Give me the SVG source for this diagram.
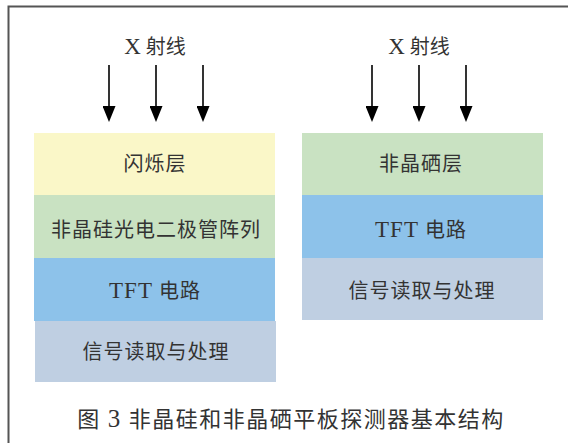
<svg xmlns="http://www.w3.org/2000/svg" width="568" height="443" viewBox="0 0 568 443">
<style>
.t{font-family:"Liberation Serif","Noto Sans CJK SC",serif;fill:#333;text-anchor:middle;}
.lbl{font-size:20px;letter-spacing:1px;}
.xr{font-size:20px;}
.cap{font-size:22px;letter-spacing:1.5px;}
.lat{font-size:23px;}
.arr{stroke:#000;stroke-width:1.6;fill:none;}
</style>
<defs>
<marker id="ah" viewBox="0 0 16 13" refX="0" refY="6.5" markerWidth="16" markerHeight="13" markerUnits="userSpaceOnUse" orient="auto">
<path d="M0,0 L16,6.5 L0,13 z" fill="#000"/>
</marker>
</defs>
<rect width="568" height="443" fill="#fff"/>
<path d="M8.5,443 V6.5 H568" stroke="#555" stroke-width="2" fill="none"/>

<g id="left-xray"><text class="t xr" x="155" y="54"><tspan class="lat">X</tspan> 射线</text></g>
<g id="right-xray"><text class="t xr" x="419" y="54"><tspan class="lat">X</tspan> 射线</text></g>

<g id="connectors">
<line class="arr" x1="109" y1="65" x2="109" y2="106" marker-end="url(#ah)"/>
<line class="arr" x1="156" y1="65" x2="156" y2="106" marker-end="url(#ah)"/>
<line class="arr" x1="203" y1="65" x2="203" y2="106" marker-end="url(#ah)"/>
<line class="arr" x1="372" y1="65" x2="372" y2="106" marker-end="url(#ah)"/>
<line class="arr" x1="419" y1="65" x2="419" y2="106" marker-end="url(#ah)"/>
<line class="arr" x1="466" y1="65" x2="466" y2="106" marker-end="url(#ah)"/>
</g>

<g id="l-scint"><rect x="34" y="133" width="241" height="62" fill="#FAF7C8"/><text class="t lbl" x="155" y="171">闪烁层</text></g>
<g id="l-asi"><rect x="34" y="195" width="241" height="63" fill="#C9E2C2"/><text class="t lbl" x="156" y="237">非晶硅光电二极管阵列</text></g>
<g id="l-tft"><rect x="34" y="258" width="241" height="63" fill="#8DC2EA"/><text class="t lbl" x="155" y="298"><tspan class="lat">TFT</tspan> 电路</text></g>
<g id="l-sig"><rect x="35" y="321" width="241" height="61" fill="#BFCFE2"/><text class="t lbl" x="156" y="359">信号读取与处理</text></g>

<g id="r-ase"><rect x="302" y="133" width="241" height="62" fill="#C9E2C2"/><text class="t lbl" x="421" y="171">非晶硒层</text></g>
<g id="r-tft"><rect x="302" y="195" width="241" height="63" fill="#8DC2EA"/><text class="t lbl" x="421" y="237"><tspan class="lat">TFT</tspan> 电路</text></g>
<g id="r-sig"><rect x="302" y="258" width="241" height="62" fill="#BFCFE2"/><text class="t lbl" x="422" y="298">信号读取与处理</text></g>

<g id="caption"><text class="t cap" x="291" y="427">图 <tspan style="font-size:25px">3</tspan> 非晶硅和非晶硒平板探测器基本结构</text></g>
</svg>
